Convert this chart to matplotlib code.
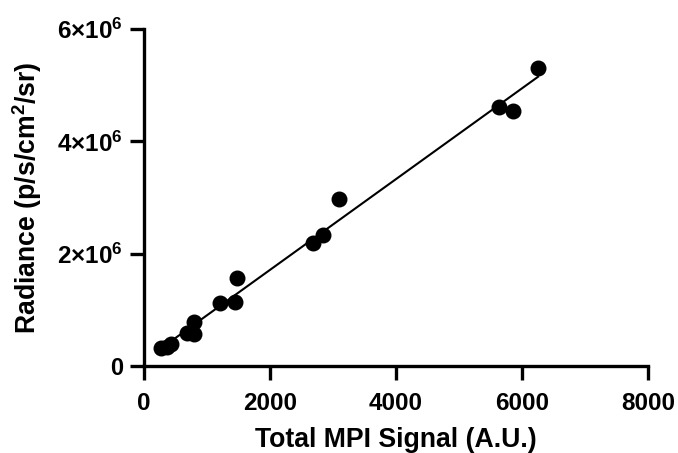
import numpy as np
import matplotlib
matplotlib.use("Agg")
import matplotlib.pyplot as plt

plt.rcParams['font.family'] = ['Liberation Sans', 'DejaVu Sans']
plt.rcParams['font.weight'] = 'bold'
plt.rcParams['mathtext.fontset'] = 'custom'
plt.rcParams['mathtext.rm'] = 'Liberation Sans:bold'
plt.rcParams['mathtext.it'] = 'Liberation Sans:bold'
plt.rcParams['mathtext.bf'] = 'Liberation Sans:bold'

# MPI signal vs radiance
mpi_signal = [270, 365, 430, 683, 794, 794, 1206, 1444, 1476,
              2683, 2841, 3095, 5635, 5857, 6254]
radiance = [0.32e6, 0.34e6, 0.39e6, 0.59e6, 0.57e6, 0.78e6, 1.12e6, 1.14e6, 1.57e6,
            2.19e6, 2.33e6, 2.97e6, 4.61e6, 4.54e6, 5.31e6]

x_ticks = [0, 2000, 4000, 6000, 8000]
y_ticks = [0, 2e6, 4e6, 6e6]
y_tick_labels = ['0', r'$2{\times}10^{6}$', r'$4{\times}10^{6}$', r'$6{\times}10^{6}$']

x = np.array(mpi_signal)
y = np.array(radiance)
slope, intercept = np.polyfit(x, y, 1)
xfit = np.array([x.min(), x.max()])

fig = plt.figure(figsize=(6.78, 4.53), dpi=100)
ax = fig.add_axes([0.2124, 0.192, 0.7434, 0.744])

ax.plot(xfit, slope * xfit + intercept, color='black', lw=1.5, zorder=2)
ax.scatter(x, y, s=110, color='black', zorder=3, clip_on=False)

ax.set_xlim(0, 8000)
ax.set_ylim(0, 6e6)
ax.set_xticks(x_ticks)
ax.set_yticks(y_ticks)
ax.set_yticklabels(y_tick_labels)

for side in ['top', 'right']:
    ax.spines[side].set_visible(False)
for side in ['left', 'bottom']:
    ax.spines[side].set_linewidth(2.4)
ax.tick_params(width=2.4, length=10)
ax.tick_params(axis='x', labelsize=17.5, pad=8.5)
ax.tick_params(axis='y', labelsize=17, pad=5)
for lab in ax.get_yticklabels()[1:]:
    lab.set_fontsize(17.5)

ax.set_xlabel('Total MPI Signal (A.U.)', fontsize=19.2, fontweight='bold')
ax.set_ylabel(r'Radiance (p/s/cm$^{2}$/sr)', fontsize=19.2, fontweight='bold')
ax.xaxis.set_label_coords(0.5, -0.239)
ax.xaxis.label.set_va('baseline')
ax.yaxis.set_label_coords(-0.232, 0.5)
ax.yaxis.label.set_va('center')

fig.savefig('out.png', dpi=100)
